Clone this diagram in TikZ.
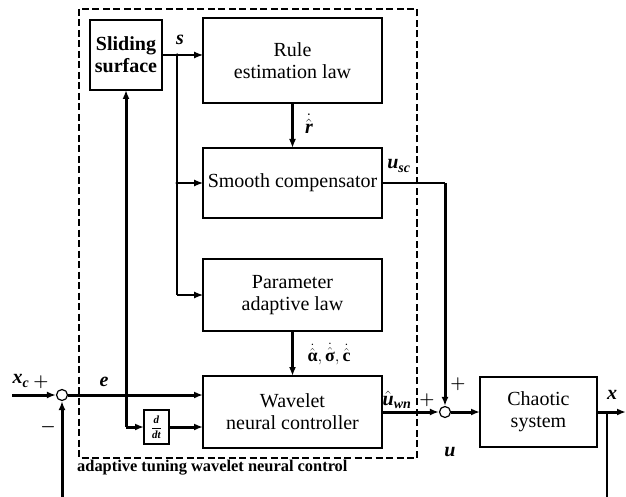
\documentclass[tikz,border=0pt]{standalone}
\usepackage{amsmath}
\usepackage{amssymb}
\usepackage{fontspec}
\setmainfont{Liberation Serif}
\usetikzlibrary{arrows.meta,positioning}

\newcommand{\bix}[1]{\textbf{\textit{#1}}}

\begin{document}
\begin{tikzpicture}[
    x = 1pt, y = -1pt, % pixel grid of the sketch
    > = {Latex[length=9pt, width=7pt]}, % arrow head style
    font = \fontsize{20}{22}\selectfont,
    wire/.style = {line width=1.2pt},
    bus/.style = {line width=3pt},
    ]

    \tikzset{
    block/.style = {draw, line width=1.3pt, align=center, inner sep=2pt, outer sep=0pt, minimum height=70pt},
    sumnode/.style = {circle, draw, line width=1.2pt, fill=white, minimum size=11pt, inner sep=0pt},
    lbl/.style = {inner sep=0pt},
    sign/.style = {inner sep=0pt, font=\fontsize{18}{19}\selectfont},
    joint/.style = {circle, fill, inner sep=0pt, minimum size=3.5pt}
    }

    \useasboundingbox (0,0) rectangle (626,497);

    % dashed frame of the adaptive part
    \draw[line width=2.8pt, dash pattern=on 7pt off 3.5pt] (79,9) rectangle (417,458);
    \node[anchor=west, inner sep=0pt, font=\fontsize{16.4}{18}\selectfont\bfseries] (cap) at (77,468) {adaptive tuning wavelet neural control};

    \node[block, minimum width=179pt, minimum height=85pt] (rule) at (292.5,60.5) {Rule\\estimation law};
    \node[block, minimum width=179pt] (smooth) [below=45pt of rule] {Smooth compensator};
    \node[block, minimum width=179pt, minimum height=72pt] (param) [below=41pt of smooth] {Parameter\\adaptive law};
    \node[block, minimum width=179pt, minimum height=72pt] (wave) [below=45pt of param] {Wavelet\\neural controller};
    \node[block, minimum width=72pt, font=\fontsize{20}{22}\selectfont\bfseries] (slide) at (126,55) {Sliding\\surface};
    \node[block, minimum width=117pt] (chaos) at (538.5,412) {Chaotic\\system};
    \node[block, minimum width=25pt, minimum height=34pt, inner sep=0pt, font=\fontsize{11}{12}\selectfont] (ddt) at (156.5,427) {$\dfrac{\bix{d}}{\bix{dt}}$};
    \node[sumnode] (sumL) at (62,395) {};
    \node[sumnode] (sumR) at (445,412) {};

    \coordinate (sj) at (177,55);
    \coordinate (dj) at (slide.south |- ddt.west);
    \coordinate (uj) at (sumR.north |- smooth.east);
    \coordinate (xj) at (607,412);
    \coordinate (xin) at (12,395);
    \coordinate (xout) at (626,412);
    \coordinate (fbL) at (62,497);
    \coordinate (fbR) at (607,497);

    % sliding variable s
    \draw[wire] (slide.east) -- (sj);
    \draw[wire,->] (sj) -- (sj -| rule.west);
    \draw[wire] (sj) -- (sj |- param.west);
    \draw[wire,->] (sj |- smooth.west) -- (smooth.west);
    \draw[wire,->] (sj |- param.west) -- (param.west);
    \node[joint] at (sj) {};
    \node[joint] at (sj |- smooth.west) {};

    % adaptive laws
    \draw[bus,->] (rule.south) -- (smooth.north);
    \draw[bus,->] (param.south) -- (wave.north);

    % tracking error e
    \draw[bus,->] (xin) -- (sumL.west);
    \draw[bus,->] (sumL.east) -- (sumL.east -| wave.west);
    \draw[bus,->] (dj) -- (slide.south);
    \draw[bus,->] (dj) -- (ddt.west);
    \draw[bus,->] (ddt.east) -- (ddt.east -| wave.west);

    % control signal
    \draw[wire] (smooth.east) -- (uj);
    \draw[bus,->] (uj) -- (sumR.north);
    \draw[bus,->] (wave.east) -- (sumR.west);
    \draw[bus,->] (sumR.east) -- (chaos.west);
    \draw[bus,->] (chaos.east) -- (xout);
    \draw[line width=2pt] (xj) -- (fbR);
    \draw[bus,->] (fbL) -- (sumL.south);

    % labels
    \node[lbl] (ls) at (180,40) {\bix{s}};
    \node[lbl] (lr) at (309,124) {$\dot{\hat{\text{\bix{r}}}}$};
    \node[lbl] (lusc) at (399,166) {$\text{\bix{u}}_{\text{\bix{sc}}}$};
    \node[lbl, font=\fontsize{18}{20}\selectfont] (labc) at (329,354) {$\dot{\hat{\text{\textbf{α}}}},\dot{\hat{\text{\textbf{σ}}}},\dot{\hat{\text{\textbf{c}}}}$};
    \node[lbl] (le) at (104,382) {\bix{e}};
    \node[lbl] (lxc) at (21,381) {$\text{\bix{x}}_{\text{\bix{c}}}$};
    \node[sign] (lpc) at (41,382) {$\boldsymbol{+}$};
    \node[sign] (lminus) at (48,427) {$\boldsymbol{-}$};
    \node[lbl] (luwn) at (397,400) {$\hat{\text{\bix{u}}}_{\text{\bix{wn}}}$};
    \node[sign] (lp1) at (427,400) {$\boldsymbol{+}$};
    \node[sign] (lp2) at (458,384) {$\boldsymbol{+}$};
    \node[lbl] (lu) at (450,452) {\bix{u}};
    \node[lbl] (lx) at (612,395) {\bix{x}};
\end{tikzpicture}
\end{document}
